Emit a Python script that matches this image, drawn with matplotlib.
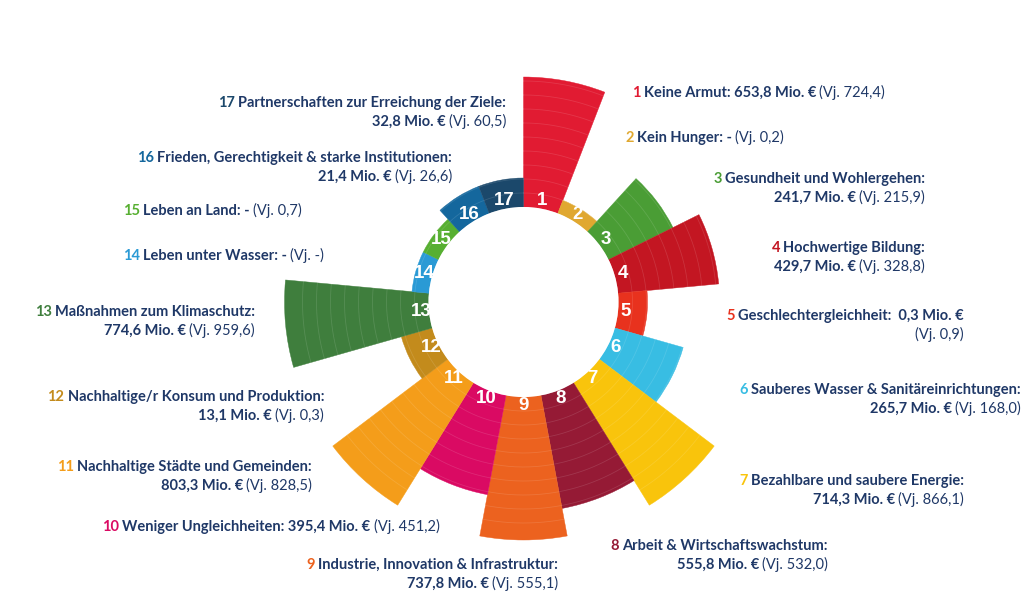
import numpy as np
import matplotlib
matplotlib.use("Agg")
from matplotlib import pyplot as plt

# ---- data ----
sdg_no = list(range(1, 18))
goal_names = ["Keine Armut", "Kein Hunger", "Gesundheit und Wohlergehen",
              "Hochwertige Bildung", "Geschlechtergleichheit",
              "Sauberes Wasser & Sanitäreinrichtungen",
              "Bezahlbare und saubere Energie", "Arbeit & Wirtschaftswachstum",
              "Industrie, Innovation & Infrastruktur", "Weniger Ungleichheiten",
              "Nachhaltige Städte und Gemeinden", "Nachhaltige/r Konsum und Produktion",
              "Maßnahmen zum Klimaschutz", "Leben unter Wasser", "Leben an Land",
              "Frieden, Gerechtigkeit & starke Institutionen",
              "Partnerschaften zur Erreichung der Ziele"]
amounts = ["653,8 Mio. €", "-", "241,7 Mio. €", "429,7 Mio. €", "0,3 Mio. €",
           "265,7 Mio. €", "714,3 Mio. €", "555,8 Mio. €", "737,8 Mio. €",
           "395,4 Mio. €", "803,3 Mio. €", "13,1 Mio. €", "774,6 Mio. €",
           "-", "-", "21,4 Mio. €", "32,8 Mio. €"]
prev_year = ["724,4", "0,2", "215,9", "328,8", "0,9", "168,0", "866,1", "532,0",
             "555,1", "451,2", "828,5", "0,3", "959,6", "-", "0,7", "26,6", "60,5"]
# outer radius of each wedge as drawn in the picture (hole radius = 95)
bar_outer = [225, 109, 167, 196, 124, 166, 239, 210, 238, 196, 239, 127, 239,
             112, 112, 124, 124]
colors = ["#E11B32", "#E0A830", "#4A9D35", "#C31622", "#E8321E", "#38BDE3",
          "#F9C40C", "#951A35", "#EC621F", "#DA0A63", "#F49D1A", "#C38B1C",
          "#3F7E3D", "#2A9AD5", "#57AF31", "#14679D", "#1B486B"]

# label layout: (x, y of first line, alignment, mode)
label_pos = [(632, 93, "left", "one"), (625, 138, "left", "one"),
             (925, 179, "right", "two"), (925, 248, "right", "two"),
             (964, 316, "right", "five"), (1021, 390, "right", "two"),
             (964, 481, "right", "two"), (828, 546, "right", "two"),
             (558, 565, "right", "two"), (102, 527, "left", "one"),
             (312, 467, "right", "two"), (324, 397, "right", "two"),
             (255, 312, "right", "two"), (123, 256, "left", "one"),
             (123, 211, "left", "one"), (452, 158, "right", "two"),
             (506, 103, "right", "two")]

W, H = 1034, 603
CX, CY, R = 523.5, 302, 250
R_IN = 95
NAVY = "#1F3867"
FONT = "Lato"
FS = 10.5
LINE_H = 19

fig = plt.figure(figsize=(W / 100, H / 100), dpi=100)
fig.patch.set_facecolor("white")

ax = fig.add_axes([(CX - R) / W, (H - CY - R) / H, 2 * R / W, 2 * R / H],
                  projection="polar")
ax.set_theta_zero_location("N")
ax.set_theta_direction(-1)
ax.set_ylim(0, R)
ax.axis("off")

n = len(sdg_no)
step = 2 * np.pi / n
theta = (np.arange(n) + 0.5) * step
ax.bar(theta, np.array(bar_outer) - R_IN, width=step, bottom=R_IN,
       color=colors, edgecolor=colors, linewidth=0.3, zorder=2)

# faint concentric lines inside the wedges
tt = np.linspace(0, 2 * np.pi, 600)
for r in np.arange(R_IN + 14, 235, 14):
    ax.plot(tt, np.full_like(tt, r), color="white", alpha=0.12, lw=0.6, zorder=3)

for th, num in zip(theta, sdg_no):
    ax.text(th, 103, str(num), color="white", fontweight="bold", fontsize=13.5,
            family="Liberation Sans", ha="center", va="center", zorder=4)

# white hole on top (cuts the numbers slightly like the original)
ax.bar(0, R_IN, width=2 * np.pi, bottom=0, color="white", linewidth=0, zorder=5)

renderer = fig.canvas.get_renderer()
GAP = 3.2


def rich_line(x, y, parts, ha):
    texts = []
    for s, col, wt in parts:
        t = fig.text(0, 0, s, color=col, fontweight=wt, fontsize=FS, family=FONT,
                     va="baseline", ha="left")
        texts.append(t)
    widths = [t.get_window_extent(renderer).width for t in texts]
    total = sum(widths) + GAP * (len(parts) - 1)
    x0 = x if ha == "left" else x - total
    for t, w in zip(texts, widths):
        t.set_position((x0 / W, 1 - (y + 4) / H))
        x0 += w + GAP


for i in range(n):
    x, y, ha, mode = label_pos[i]
    num = (str(sdg_no[i]), colors[i], "bold")
    prev = ("(Vj. " + prev_year[i] + ")", NAVY, "normal")
    if mode == "one":
        rich_line(x, y, [num, (goal_names[i] + ": " + amounts[i], NAVY, "bold"), prev], ha)
    elif mode == "two":
        rich_line(x, y, [num, (goal_names[i] + ":", NAVY, "bold")], ha)
        rich_line(x, y + LINE_H, [(amounts[i], NAVY, "bold"), prev], ha)
    else:
        rich_line(x, y, [num, (goal_names[i] + ":  " + amounts[i], NAVY, "bold")], ha)
        rich_line(x, y + LINE_H, [prev], ha)

fig.savefig("out.png", dpi=100, facecolor="white")
